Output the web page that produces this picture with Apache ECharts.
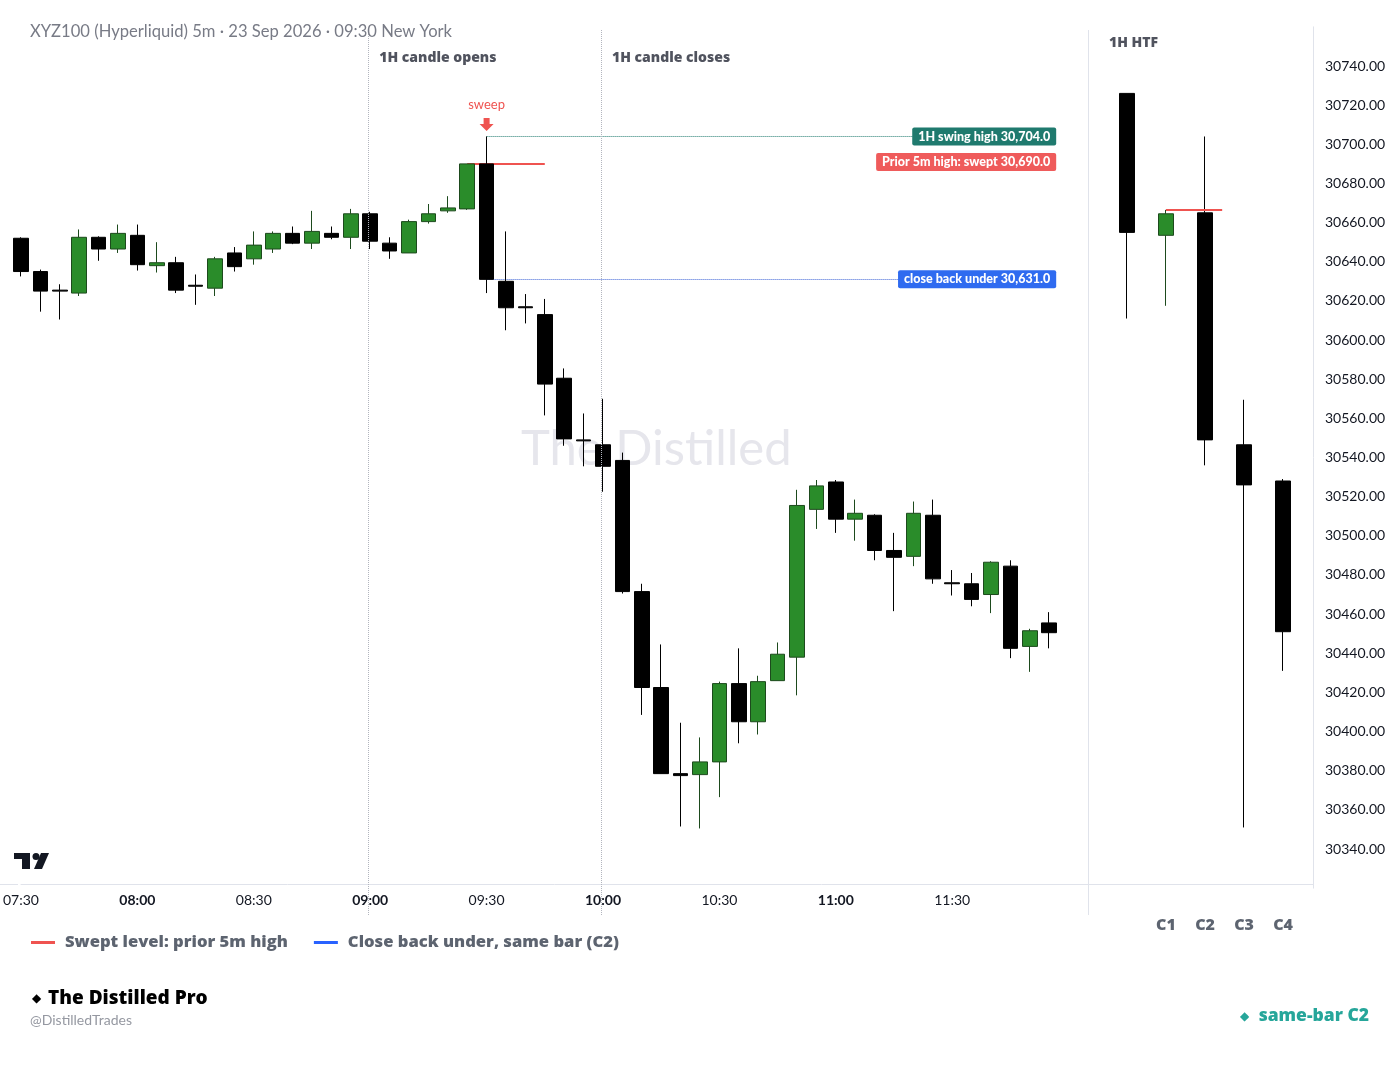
<!DOCTYPE html>
<html><head><meta charset="utf-8">
<script src="https://cdn.jsdelivr.net/npm/echarts@6/dist/echarts.min.js"></script>
<style>html,body{margin:0;padding:0;background:#fff}#c{width:1400px;height:1071px}</style>
</head><body><div id="c"></div><script>
// ---------- DATA (5m candles) ----------
const times = ['07:30','07:35','07:40','07:45','07:50','07:55','08:00','08:05','08:10','08:15','08:20','08:25',
 '08:30','08:35','08:40','08:45','08:50','08:55','09:00','09:05','09:10','09:15','09:20','09:25',
 '09:30','09:35','09:40','09:45','09:50','09:55','10:00','10:05','10:10','10:15','10:20','10:25',
 '10:30','10:35','10:40','10:45','10:50','10:55','11:00','11:05','11:10','11:15','11:20','11:25',
 '11:30','11:35','11:40','11:45','11:50','11:55'];
const opens = [30652,30635,30625.5,30624,30652.5,30646.5,30653.5,30638,30639.5,30628,30626.5,30644.5,
 30641.5,30646.5,30654.5,30649.5,30654.5,30652.5,30664.5,30649.5,30644.5,30660.5,30666,30667,
 30690,30630,30617,30613,30580.5,30549,30546.5,30538.5,30471.5,30422.5,30378.5,30378,
 30384.5,30424.5,30405,30426,30438,30513.5,30527.5,30508.5,30510.5,30492.5,30489.5,30510.5,
 30476,30475.5,30470,30484.5,30443.5,30455.5];
const highs = [30652.5,30636,30628.5,30656.5,30653,30659,30659,30650,30642.5,30633.5,30642.5,30647.5,
 30655.5,30655.5,30658,30666,30658,30667,30665.5,30652.5,30661.5,30669.5,30673.5,30690,
 30704,30655.5,30623.5,30621,30585.5,30562.5,30570,30542.5,30475.5,30444.5,30404.5,30397,
 30425.5,30442.5,30428.5,30445.5,30523.5,30528.5,30528.5,30518.5,30511,30501.5,30517.5,30518.5,
 30482.5,30481,30487,30487.5,30452.5,30461];
const lows = [30632.5,30614.5,30610.5,30622.5,30640.5,30644.5,30635.5,30634.5,30624,30618,30622.5,30635,
 30638.5,30644.5,30649,30646.5,30651.5,30646.5,30646.5,30641.5,30644.5,30659.5,30665,30666.5,
 30624,30605,30608.5,30561.5,30546,30535.5,30522.5,30470.5,30408.5,30378.5,30351.5,30350.5,
 30366.5,30394,30398.5,30426,30418.5,30503.5,30501.5,30497.5,30487.5,30461.5,30484.5,30475.5,
 30469.5,30464,30460.5,30437.5,30430.5,30442.5];
const closes = [30635,30625,30625,30652.5,30646.5,30654.5,30638.5,30639.5,30625.5,30627.5,30641.5,30637.5,
 30648.5,30654.5,30649.5,30655.5,30652.5,30664.5,30650.5,30645.5,30660.5,30664.5,30667.5,30690,
 30631,30616.5,30616.5,30577.5,30549.5,30548.5,30535.5,30471.5,30422.5,30378.5,30377.5,30384.5,
 30424.5,30405,30425.5,30439.5,30515.5,30525.5,30508.5,30511.5,30492.5,30489,30511.5,30478,
 30475.5,30467.5,30486.5,30442.5,30451.5,30450.5];
const xTickLabels = ['07:30','08:00','08:30','09:00','09:30','10:00','10:30','11:00','11:30'];

// ---------- DATA (1H HTF candles) ----------
const htfLabels = ['', 'C1', 'C2', 'C3', 'C4'];
const htfOpens  = [30726, 30653.5, 30665, 30546.5, 30528];
const htfHighs  = [30726, 30666.5, 30704, 30569.5, 30529];
const htfLows   = [30611, 30617.5, 30536, 30351, 30431];
const htfCloses = [30655, 30664.5, 30549, 30526, 30451];

// ---------- LEVELS ----------
const swingHigh = 30704.0;
const sweptHigh = 30690.0;
const closeUnder = 30631.0;
const htfSweepLevel = 30666.5;
const yTickLabels = [30340,30360,30380,30400,30420,30440,30460,30480,30500,30520,30540,30560,30580,30600,30620,30640,30660,30680,30700,30720,30740];

// ---------- helpers ----------
const toMin = t => { const p = t.split(':').map(Number); return p[0]*60 + p[1] - 450; };
const fmt1 = v => v.toLocaleString('en-US', {minimumFractionDigits:1, maximumFractionDigits:1});
const Y_MIN = 30320, Y_MAX = 30760, X_MAX = 275, HTF_MAX = 5.769;
const FONT = 'Lato, "Noto Sans", sans-serif';
const HEAVY = '"Open Sans", "Noto Sans", sans-serif';

const candleData = times.map((t,i) => [toMin(t), opens[i], closes[i], lows[i], highs[i]]);
const htfData = htfLabels.map((c,i) => [i+1, htfOpens[i], htfCloses[i], htfLows[i], htfHighs[i]]);
const tickSet = {}; xTickLabels.forEach(s => tickSet[toMin(s)] = s);

const candleStyle = {color:'#2a8c2a', color0:'#000000', borderColor:'#1d4a1d', borderColor0:'#000000', borderWidth:1};
const labelEndX = 266.8;
const boxLabel = (text, bg) => ({show:true, position:'insideEnd', distance:0, formatter:text,
  backgroundColor:bg, color:'#fff', fontFamily:FONT, fontWeight:900, fontSize:12.5, padding:[3,6,2,6], borderRadius:2});

const chart = echarts.init(document.getElementById('c'), null, {renderer:'canvas'});
chart.setOption({
  animation: false,
  backgroundColor: '#ffffff',
  title: [
    {text:'XYZ100 (Hyperliquid) 5m · 23 Sep 2026 · 09:30 New York', left:30, top:23, padding:0,
     textStyle:{fontFamily:FONT, fontSize:16.6, fontWeight:'normal', color:'#787b86'}},
    {text:'1H HTF', left:1109, top:36, padding:0,
     textStyle:{fontFamily:HEAVY, fontSize:14, fontWeight:800, color:'#50535e'}}
  ],
  legend: {
    left: 31, top: 934, padding:0, icon:'rect', itemWidth:24, itemHeight:3, itemGap:26,
    textStyle:{fontFamily:HEAVY, fontSize:16.6, fontWeight:800, color:'#5d6470', padding:[0,0,0,5]},
    data:['Swept level: prior 5m high','Close back under, same bar (C2)']
  },
  grid: [
    {left:18, width:1070, top:26.85, height:861.3},
    {left:1088, width:225, top:26.85, height:861.3},
    {left:18, width:1070, top:30, height:885}
  ],
  xAxis: [
    {type:'value', gridIndex:0, min:0, max:X_MAX, interval:30, offset:-4,
     axisLine:{show:true, onZero:false, lineStyle:{color:'#e0e3eb'}}, axisTick:{show:false}, splitLine:{show:false},
     axisLabel:{margin:9, showMaxLabel:false, fontFamily:FONT, fontSize:14, color:'#131722',
       formatter: v => { const s = tickSet[v]; if (!s) return ''; return s.endsWith(':00') ? '{b|'+s+'}' : s; },
       rich:{b:{fontFamily:FONT, fontSize:14, fontWeight:'bold', color:'#131722'}}}},
    {type:'value', gridIndex:1, min:0, max:HTF_MAX, interval:1, offset:-4,
     axisLine:{show:true, onZero:false, lineStyle:{color:'#e0e3eb'}}, axisTick:{show:false}, splitLine:{show:false},
     axisLabel:{margin:33, showMinLabel:false, showMaxLabel:false, fontFamily:HEAVY, fontSize:16, fontWeight:800, color:'#5d6470',
       formatter: v => htfLabels[v-1] || ''}},
    {type:'value', gridIndex:2, min:0, max:X_MAX, show:false}
  ],
  yAxis: [
    {type:'value', gridIndex:0, min:Y_MIN, max:Y_MAX, interval:20, show:false},
    {type:'value', gridIndex:1, min:Y_MIN, max:Y_MAX, interval:20, position:'right',
     axisLine:{show:true, onZero:false, lineStyle:{color:'#e0e3eb'}}, axisTick:{show:false}, splitLine:{show:false},
     axisLabel:{margin:12, showMinLabel:false, showMaxLabel:false, fontFamily:FONT, fontSize:14, color:'#131722',
       formatter: v => yTickLabels.indexOf(v) >= 0 ? v.toFixed(2) : ''}},
    {type:'value', gridIndex:2, min:0, max:1, show:false}
  ],
  series: [
    {type:'line', name:'guides', xAxisIndex:2, yAxisIndex:2, data:[], silent:true,
     markLine:{silent:true, symbol:['none','none'], animation:false,
       data:[
         [{coord:[toMin('09:00'), 1], lineStyle:{color:'#b2b5be', type:'dotted', width:1}, label:{show:false}}, {coord:[toMin('09:00'), 0]}],
         [{coord:[toMin('10:00'), 1], lineStyle:{color:'#b2b5be', type:'dotted', width:1}, label:{show:false}}, {coord:[toMin('10:00'), 0]}],
         [{coord:[X_MAX, 1], lineStyle:{color:'#e0e3eb', type:'solid', width:1}, label:{show:false}}, {coord:[X_MAX, 0]}]
       ]}},
    {type:'candlestick', name:'5m', xAxisIndex:0, yAxisIndex:0, data:candleData, barWidth:15, clip:false,
     itemStyle:candleStyle, z:3,
     markLine:{silent:true, symbol:['none','none'], animation:false, z:2,
       data:[
         [{coord:[toMin('09:25'), sweptHigh], lineStyle:{color:'#ef5350', type:'solid', width:2}, label:{show:false}}, {coord:[toMin('09:45'), sweptHigh]}],
         [{coord:[toMin('09:30'), swingHigh], lineStyle:{color:'#1f7a6e', type:'dotted', width:1},
           label:boxLabel('1H swing high '+fmt1(swingHigh), '#1f7a6e')}, {coord:[labelEndX, swingHigh]}],
         [{coord:[toMin('09:30'), sweptHigh], lineStyle:{color:'rgba(0,0,0,0)', width:0},
           label:Object.assign(boxLabel('Prior 5m high: swept '+fmt1(sweptHigh), '#ef5b5b'), {offset:[0,-2]})}, {coord:[labelEndX, sweptHigh]}],
         [{coord:[toMin('09:30'), closeUnder], lineStyle:{color:'#3d63d6', type:'dotted', width:1},
           label:boxLabel('close back under '+fmt1(closeUnder), '#2f6bf0')}, {coord:[labelEndX, closeUnder]}]
       ]},
     markPoint:{silent:true, animation:false,
       data:[
         {coord:[toMin('09:00'), 30744], symbol:'circle', symbolSize:0,
          label:{show:true, position:'right', distance:9, formatter:'1H candle opens', fontFamily:HEAVY, fontSize:14, fontWeight:800, color:'#50535e'}},
         {coord:[toMin('10:00'), 30744], symbol:'circle', symbolSize:0,
          label:{show:true, position:'right', distance:9, formatter:'1H candle closes', fontFamily:HEAVY, fontSize:14, fontWeight:800, color:'#50535e'}},
         {coord:[toMin('09:30'), swingHigh], symbol:'path://M4,0 L10,0 L10,6 L14,6 L7,13 L0,6 L4,6 Z', symbolSize:[14,13], symbolOffset:[0,-12],
          itemStyle:{color:'#ef5350'},
          label:{show:true, position:'top', distance:7, formatter:'sweep', fontFamily:FONT, fontSize:13, color:'#ef5350'}}
       ]}
    },
    {type:'candlestick', name:'1H', xAxisIndex:1, yAxisIndex:1, data:htfData, barWidth:15, clip:false,
     itemStyle:candleStyle, z:3},
    {type:'line', name:'htfSweep', xAxisIndex:1, yAxisIndex:1, symbol:'none', z:4, silent:true,
     data:[[htfLabels.indexOf('C1')+1, htfSweepLevel],[htfLabels.indexOf('C2')+1.44, htfSweepLevel]],
     lineStyle:{color:'#ef5350', width:2}},
    {type:'line', name:'Swept level: prior 5m high', xAxisIndex:0, yAxisIndex:0, data:[], color:'#ef5350',
     lineStyle:{color:'#ef5350'}, itemStyle:{color:'#ef5350'}},
    {type:'line', name:'Close back under, same bar (C2)', xAxisIndex:0, yAxisIndex:0, data:[], color:'#2962ff',
     lineStyle:{color:'#2962ff'}, itemStyle:{color:'#2962ff'}}
  ],
  graphic: [
    {type:'text', left:521, top:425, z:-10, silent:true,
     style:{text:'The Distilled', font:'49px '+FONT, fill:'#e6e6ec'}},
    {type:'group', left:14, top:853, children:[
      {type:'rect', shape:{x:0, y:0, width:16, height:6}, style:{fill:'#131722'}},
      {type:'rect', shape:{x:8, y:0, width:8, height:16}, style:{fill:'#131722'}},
      {type:'circle', shape:{cx:22, cy:3.5, r:3.5}, style:{fill:'#131722'}},
      {type:'polygon', shape:{points:[[27,0],[35,0],[28,16],[20,16]]}, style:{fill:'#131722'}}
    ]},
    {type:'rect', left:0, top:884, shape:{width:18, height:1}, style:{fill:'#e0e3eb'}, silent:true},
    {type:'text', left:32, top:993, style:{text:'◆', font:'12px '+HEAVY, fill:'#000000'}},
    {type:'text', left:48, top:989, style:{text:'The Distilled Pro', font:'800 19px '+HEAVY, fill:'#000000'}},
    {type:'text', left:30, top:1013, style:{text:'@DistilledTrades', font:'14px '+FONT, fill:'#9598a1'}},
    {type:'text', left:1240, top:1011, style:{text:'◆', font:'12px '+HEAVY, fill:'#26a69a'}},
    {type:'text', right:31, top:1007, style:{text:'same-bar C2', font:'800 17.5px '+HEAVY, fill:'#26a69a'}}
  ]
});
</script></body></html>
